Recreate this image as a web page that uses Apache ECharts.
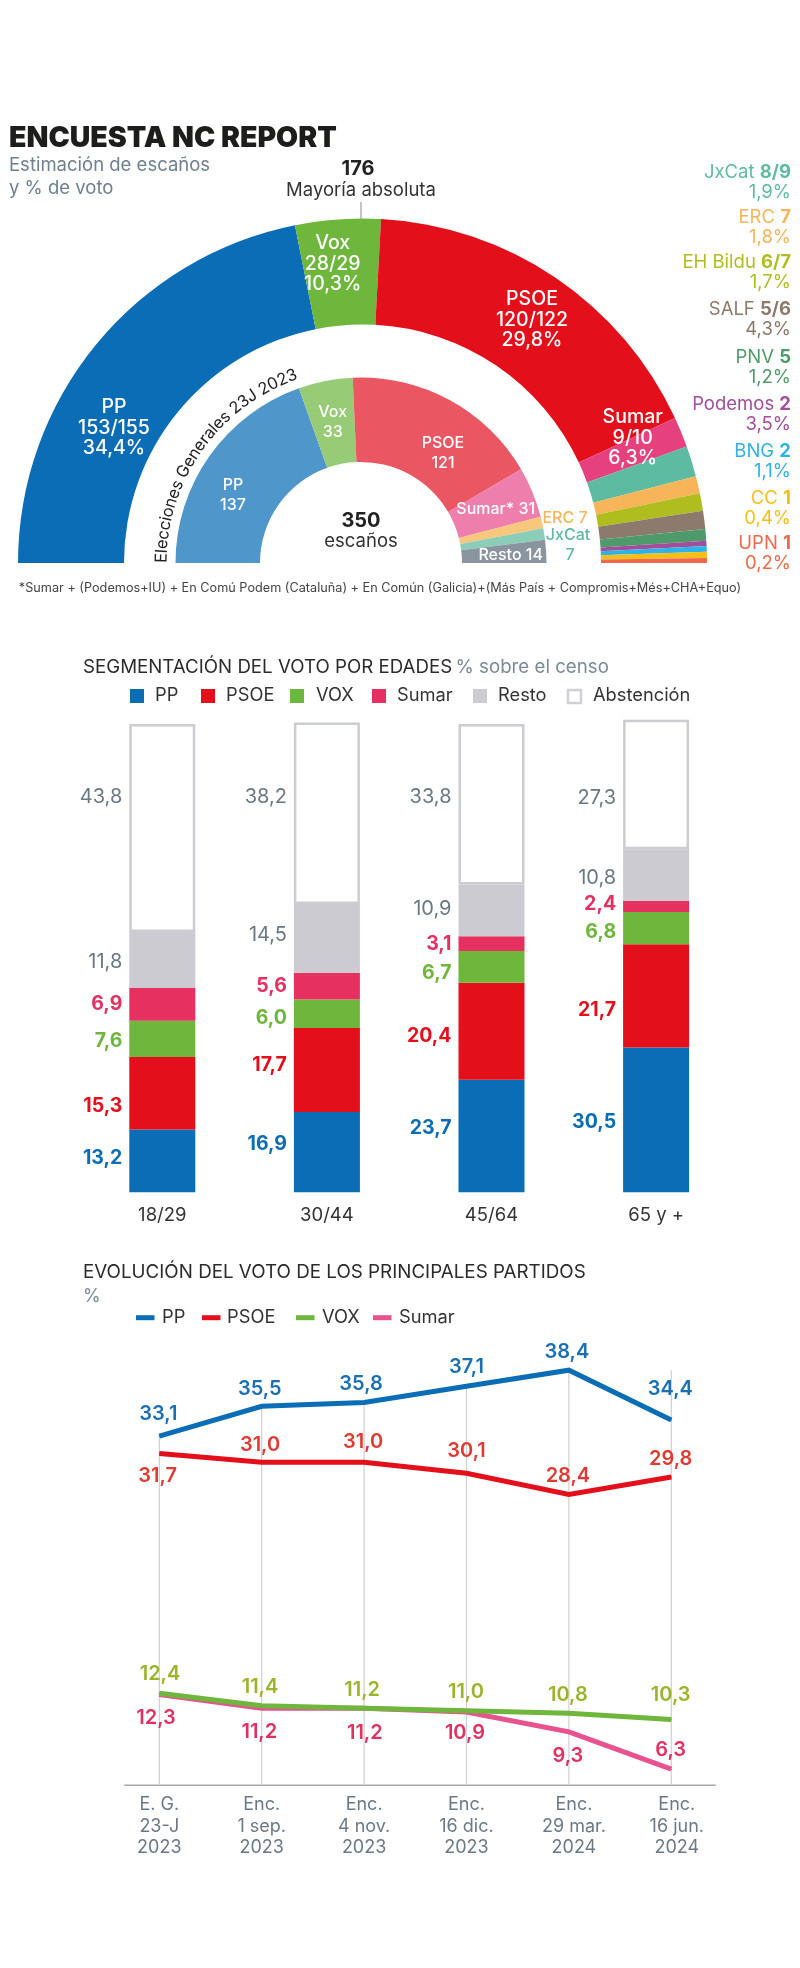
<!DOCTYPE html>
<html><head><meta charset="utf-8">
<style>html,body{margin:0;padding:0;background:#fff}#c{width:800px;height:1968px}</style>
<script src="https://cdn.jsdelivr.net/npm/echarts@6/dist/echarts.min.js"></script>
</head><body><div id="c"></div>
<script>
const FONT='Inter';
// hemicycle: poll (arc sizes)
const pollNames=['PP','Vox','PSOE','Sumar','JxCat','ERC','EH Bildu','SALF','PNV','Podemos','BNG','CC','UPN'];
const pollSeats=[153,28,120.6,10,10,5.7,5.7,6,3.8,1.7,1.9,2,1.6];
const pollColors=['#0B6DB5','#6FB63D','#E30F1B','#E6407F','#5CBBA0','#F8B458','#AFBE1E','#8C7B6C','#4F9A6A','#A24E9C','#2DB3E5','#F6BE18','#EE6A4A'];
const pollLabels=['PP\n153/155\n34,4%','Vox\n28/29\n10,3%','PSOE\n120/122\n29,8%','Sumar\n9/10\n6,3%'];
// hemicycle: 23J 2023
const elecNames=['PP','Vox','PSOE','Sumar*','ERC','JxCat','Resto'];
const elecSeats=[137,33,121,31,7,7,14];
const elecColors=['#4F96CB','#98CB75','#EA5662','#EE7FAC','#F8C77E','#8ACEB8','#8A959F'];
const elecLabels=['PP\n137','Vox\n33','PSOE\n121','Sumar* 31','','','Resto 14'];
// side list
const sideNames=['JxCat','ERC','EH Bildu','SALF','PNV','Podemos','BNG','CC','UPN'];
const sideSeats=['8/9','7','6/7','5/6','5','2','2','1','1'];
const sidePct=['1,9%','1,8%','1,7%','4,3%','1,2%','3,5%','1,1%','0,4%','0,2%'];
// age segmentation
const ageGroups=['18/29','30/44','45/64','65 y +'];
const agePP=[13.2,16.9,23.7,30.5];
const agePSOE=[15.3,17.7,20.4,21.7];
const ageVOX=[7.6,6.0,6.7,6.8];
const ageSumar=[6.9,5.6,3.1,2.4];
const ageResto=[11.8,14.5,10.9,10.8];
const ageAbst=[43.8,38.2,33.8,27.3];
// vote evolution
const dates=['E. G.\n23-J\n2023','Enc.\n1 sep.\n2023','Enc.\n4 nov.\n2023','Enc.\n16 dic.\n2023','Enc.\n29 mar.\n2024','Enc.\n16 jun.\n2024'];
const evoPP=[33.1,35.5,35.8,37.1,38.4,34.4];
const evoPSOE=[31.7,31.0,31.0,30.1,28.4,29.8];
const evoVOX=[12.4,11.4,11.2,11.0,10.8,10.3];
const evoSumar=[12.3,11.2,11.2,10.9,9.3,6.3];
const dropTops=[33.1,35.5,35.8,37.1,38.4,38.4];

const fmt=v=>v.toFixed(1).replace('.',',');
const CX=362.5,CY=563,CX2=361;
// label placement
const pollLabelPos=[[114,428],[332.7,264],[532,320],[632.7,438]];
const elecLabelPos=[[233,495.6],[332.7,421.7],[443,453],[495.7,509],null,null,[510.7,555]];
const sideY=[[172,192],[217,237],[262,282],[309,329],[357,377],[404,424],[451,471],[498,518],[543,563]];
const nudgePP=[-3,-8,-8,2],nudgePSOE=[13,-5,5,14],nudgeVOX=[2,4,6,4],nudgeSumar=[0,0,1,-2],nudgeResto=[2,-3,-1,3],nudgeAbst=[-31,-16,-7,13];
const offPP=[[-1,-22],[-2,-17],[-3,-18.5],[0,-19],[-2,-18.3],[-1,-31.4]];
const offPSOE=[[-1.6,22.6],[-1.7,-17],[-1,-19.7],[0,-22.6],[-1,-18.7],[-0.6,-17.7]];
const offVOX=[[0.7,-19],[-1.7,-19],[-2,-18.2],[-0.6,-18.4],[-1,-18.2],[-0.6,-24.4]];
const offSumar=[[-3.3,23],[-2.4,23.5],[0.7,25],[-1.6,20.7],[-1,24],[-0.6,-19]];

const g=[];
function txt(x,y,text,opt){g.push({type:'text',x,y,silent:true,style:Object.assign({text,fontFamily:FONT,fontSize:18,fill:'#333',textAlign:'left',textVerticalAlign:'middle'},opt||{})});}
function box(x,y,w,h,fill,stroke){g.push({type:'rect',silent:true,shape:{x,y,width:w,height:h},style:{fill,stroke:stroke||null,lineWidth:stroke?2.5:0}});}
function line(x1,y1,x2,y2,stroke,w){g.push({type:'line',silent:true,shape:{x1,y1,x2,y2},style:{stroke,lineWidth:w}});}

// header
txt(9,138,'ENCUESTA NC REPORT',{fontSize:28.5,fontWeight:900,fill:'#1D1D1B'});
txt(9,165,'Estimación de escaños',{fontSize:18.5,fill:'#6F8090'});
txt(9,188,'y % de voto',{fontSize:18.5,fill:'#6F8090'});
txt(358,169,'176',{fontSize:20,fontWeight:700,fill:'#222',textAlign:'center'});
txt(361,190,'Mayoría absoluta',{fontSize:18.5,fill:'#333',textAlign:'center'});
line(361,202,361,220,'#8A8A8A',1);
txt(361,520.7,'350',{fontSize:20,fontWeight:700,fill:'#222',textAlign:'center'});
txt(361,541.7,'escaños',{fontSize:18.5,fill:'#333',textAlign:'center'});
txt(565,517.7,'ERC 7',{fontSize:16,fontWeight:500,fill:'#F8B458',textAlign:'center'});
txt(568,535,'JxCat',{fontSize:16,fontWeight:500,fill:'#5CBBA0',textAlign:'center'});
txt(570,555,'7',{fontSize:16,fontWeight:500,fill:'#5CBBA0',textAlign:'center'});
txt(380,588,'*Sumar + (Podemos+IU) + En Comú Podem (Cataluña) + En Común (Galicia)+(Más País + Compromis+Més+CHA+Equo)',{fontSize:12.7,fill:'#444',textAlign:'center'});

// side list
sideNames.forEach((n,i)=>{
  const c=pollColors[i+4];
  g.push({type:'text',x:791,y:sideY[i][0],silent:true,style:{text:'{a|'+n+' }{b|'+sideSeats[i]+'}',textAlign:'right',textVerticalAlign:'middle',rich:{a:{fontFamily:FONT,fontSize:18.5,fill:c,color:c},b:{fontFamily:FONT,fontSize:18.5,fontWeight:700,fill:c,color:c}}}});
  txt(791,sideY[i][1],sidePct[i],{fontSize:18.5,fill:c,textAlign:'right'});
});

// curved caption, one rotated glyph at a time
(function(){
  const s='Elecciones Generales 23J 2023',size=16.5,r=199.5;
  const m=document.createElement('canvas').getContext('2d');
  m.font=size+'px '+FONT;
  let pos=0;
  for(const ch of s){
    const w=m.measureText(ch).width, th=(pos+w/2)/r;
    g.push({type:'text',silent:true,x:CX2-r*Math.cos(th),y:CY-r*Math.sin(th),rotation:Math.PI/2-th,
      style:{text:ch,fontFamily:FONT,fontSize:size,fill:'#222',textAlign:'center',textVerticalAlign:'middle'}});
    pos+=w;
  }
})();

// section 2 heading + legend
g.push({type:'text',x:83,y:667,silent:true,style:{text:'{a|SEGMENTACIÓN DEL VOTO POR EDADES} {b|% sobre el censo}',textVerticalAlign:'middle',rich:{a:{fontFamily:FONT,fontSize:18.7,color:'#2B2B2B',fill:'#2B2B2B'},b:{fontFamily:FONT,fontSize:18.7,color:'#7A8A98',fill:'#7A8A98'}}}});
[[130,155,'PP','#0B6DB5'],[201,226,'PSOE','#E30F1B'],[290,316,'VOX','#6FB63D'],[372,397,'Sumar','#E6305F'],[473,498,'Resto','#CBCBD1']].forEach(a=>{
  box(a[0],689,14,14,a[3]); txt(a[1],696,a[2],{fontSize:18.3,fill:'#333'});
});
box(568,690,13,13,'#fff','#CFCFD6'); txt(593,696,'Abstención',{fontSize:18.3,fill:'#333'});

// section 3 heading + legend
txt(83,1272.7,'EVOLUCIÓN DEL VOTO DE LOS PRINCIPALES PARTIDOS',{fontSize:18.8,fill:'#2B2B2B'});
txt(83,1296.7,'%',{fontSize:18,fill:'#7A8A98'});
[[136,162,'PP','#0B6DB5'],[202,227,'PSOE','#E30F1B'],[296,322,'VOX','#6FB63D'],[373,399,'Sumar','#E7528F']].forEach(a=>{
  line(a[0],1317.7,a[0]+18.5,1317.7,a[3],5); txt(a[1],1317.7,a[2],{fontSize:18.3,fill:'#333'});
});
line(124.3,1785.3,715.7,1785.3,'#A8A8A8',1.5);

function barSeries(name,vals,color,labelColor,nudge,bold,extra){
  return Object.assign({type:'bar',name,stack:'edad',xAxisIndex:0,yAxisIndex:0,barWidth:66,
    itemStyle:{color},
    label:{show:true,position:'left',distance:7,fontFamily:FONT,fontSize:bold?19.5:20,fontWeight:bold?700:400,color:labelColor,formatter:p=>fmt(p.value)},
    data:vals.map((v,i)=>({value:v,label:{offset:[0,nudge[i]]}}))},extra||{});
}
function lineSeries(name,vals,color,labelColor,off,z){
  return {type:'line',name,xAxisIndex:1,yAxisIndex:1,z,symbol:'circle',symbolSize:1,showSymbol:true,smooth:false,
    lineStyle:{color,width:5,cap:'butt',join:'miter'},itemStyle:{color},
    label:{show:true,position:'inside',fontFamily:FONT,fontSize:20,fontWeight:600,color:labelColor,formatter:p=>fmt(p.value)},
    data:vals.map((v,i)=>({value:v,label:{offset:off[i]}}))};
}

const pieLabel={show:true,position:'inside',fontFamily:FONT,color:'#fff',fontWeight:500};
const option={
  animation:false,backgroundColor:'#fff',
  grid:[{left:80,width:658.4,top:717.3,height:475},{left:108.1,width:614.4,top:1350.3,height:435}],
  xAxis:[
    {gridIndex:0,type:'category',data:ageGroups,axisLine:{show:false},axisTick:{show:false},axisLabel:{margin:14,fontFamily:FONT,fontSize:18.5,color:'#333'}},
    {gridIndex:1,type:'category',data:dates.map((d,i)=>({value:d,textStyle:i==4?{padding:[0,0,0,10]}:i==5?{padding:[0,0,0,11]}:{}})),axisLine:{show:false},axisTick:{show:false},axisLabel:{interval:0,margin:9,fontFamily:FONT,fontSize:18,lineHeight:21.2,color:'#6B7986'}}
  ],
  yAxis:[
    {gridIndex:0,type:'value',min:0,max:100,show:false},
    {gridIndex:1,type:'value',min:5,max:40,show:false}
  ],
  graphic:{elements:g},
  series:[
    {type:'pie',name:'Encuesta',center:[CX,CY],radius:[238.5,344.5],startAngle:180,endAngle:0,silent:true,
     label:Object.assign({},pieLabel,{fontSize:19.5,lineHeight:20.6}),labelLine:{show:false},
     labelLayout:p=>{const a=pollLabelPos[p.dataIndex];return a?{x:a[0],y:a[1],align:'center',verticalAlign:'middle'}:{};},
     data:pollNames.map((n,i)=>({name:n,value:pollSeats[i],itemStyle:{color:pollColors[i]},label:{show:i<4,formatter:pollLabels[i]||''}}))},
    {type:'pie',name:'23J',center:[CX2,CY],radius:[101,185.5],startAngle:180,endAngle:0,silent:true,
     label:Object.assign({},pieLabel,{fontSize:16,lineHeight:20}),labelLine:{show:false},
     labelLayout:p=>{const a=elecLabelPos[p.dataIndex];return a?{x:a[0],y:a[1],align:'center',verticalAlign:'middle'}:{};},
     data:elecNames.map((n,i)=>({name:n,value:elecSeats[i],itemStyle:{color:elecColors[i]},label:{show:!!elecLabels[i],formatter:elecLabels[i]}}))},
    barSeries('PP',agePP,'#0B6DB5','#0B6DB5',nudgePP,true),
    barSeries('PSOE',agePSOE,'#E30F1B','#E30F1B',nudgePSOE,true),
    barSeries('VOX',ageVOX,'#6FB63D','#6FB63D',nudgeVOX,true),
    barSeries('Sumar',ageSumar,'#E6305F','#E6305F',nudgeSumar,true),
    barSeries('Resto',ageResto,'#CBCBD1','#6A7884',nudgeResto,false),
    {...barSeries('Abstención',ageAbst,'#fff','#6A7884',nudgeAbst,false),itemStyle:{color:'#fff',borderColor:'#CCCCD3',borderWidth:2.5}},
    {type:'bar',name:'guia',xAxisIndex:1,yAxisIndex:1,barWidth:1.2,silent:true,z:1,itemStyle:{color:'#CFCFCF'},data:dropTops},
    lineSeries('Sumar',evoSumar,'#E7528F','#E3305F',offSumar,3),
    lineSeries('VOX',evoVOX,'#6FB63D','#9AB52A',offVOX,4),
    lineSeries('PSOE',evoPSOE,'#E30F1B','#E03A32',offPSOE,5),
    lineSeries('PP',evoPP,'#0B6DB5','#1A70B5',offPP,6)
  ]
};
const chart=echarts.init(document.getElementById('c'),null,{width:800,height:1968});
chart.setOption(option);
</script></body></html>
